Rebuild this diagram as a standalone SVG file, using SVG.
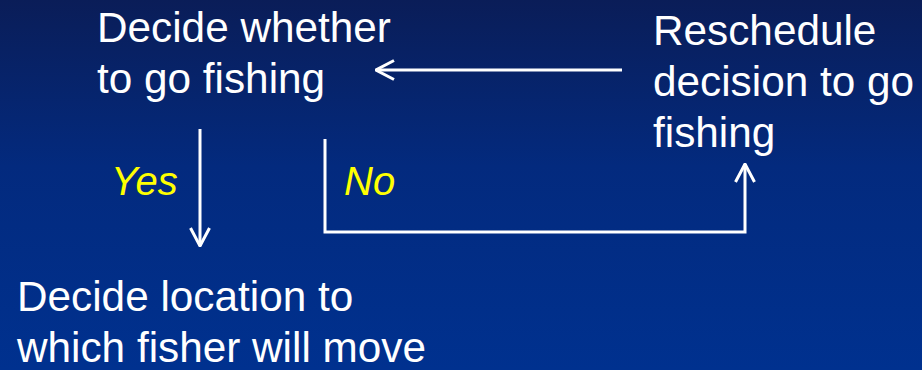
<svg xmlns="http://www.w3.org/2000/svg" width="922" height="370" viewBox="0 0 922 370">
<defs>
<linearGradient id="bg" x1="0" y1="0" x2="0" y2="1">
<stop offset="0" stop-color="#0a1d58"/>
<stop offset="0.45" stop-color="#032a7e"/>
<stop offset="1" stop-color="#00318f"/>
</linearGradient>
<marker id="arr" viewBox="0 0 20 22" refX="19" refY="11" markerWidth="20" markerHeight="22" markerUnits="userSpaceOnUse" orient="auto">
<path d="M1,1.5 L19,11 L1,20.5" fill="none" stroke="#ffffff" stroke-width="3"/>
</marker>
<style>
.t{font-family:"Liberation Sans",Arial,sans-serif;font-size:42.3px;fill:#ffffff}
.l{font-family:"Liberation Sans",Arial,sans-serif;font-size:40px;font-style:italic;fill:#ffff00}
.c{fill:none;stroke:#ffffff;stroke-width:3}
</style>
</defs>
<rect width="922" height="370" fill="url(#bg)"/>
<g id="decide-fishing">
<text class="t" x="97" y="42">Decide whether</text>
<text class="t" x="97" y="93">to go fishing</text>
</g>
<g id="reschedule">
<text class="t" x="653" y="45">Reschedule</text>
<text class="t" x="653" y="96">decision to go</text>
<text class="t" x="653" y="147">fishing</text>
</g>
<g id="decide-location">
<text class="t" x="17" y="311">Decide location to</text>
<text class="t" x="17" y="362">which fisher will move</text>
</g>
<g id="connectors">
<line class="c" x1="200" y1="129" x2="200" y2="246" marker-end="url(#arr)"/>
<polyline class="c" points="325,139 325,232 745,232 745,164" marker-end="url(#arr)"/>
<line class="c" x1="622" y1="70" x2="376" y2="70" marker-end="url(#arr)"/>
<text class="l" x="111" y="195">Yes</text>
<text class="l" x="344" y="195">No</text>
</g>
</svg>
